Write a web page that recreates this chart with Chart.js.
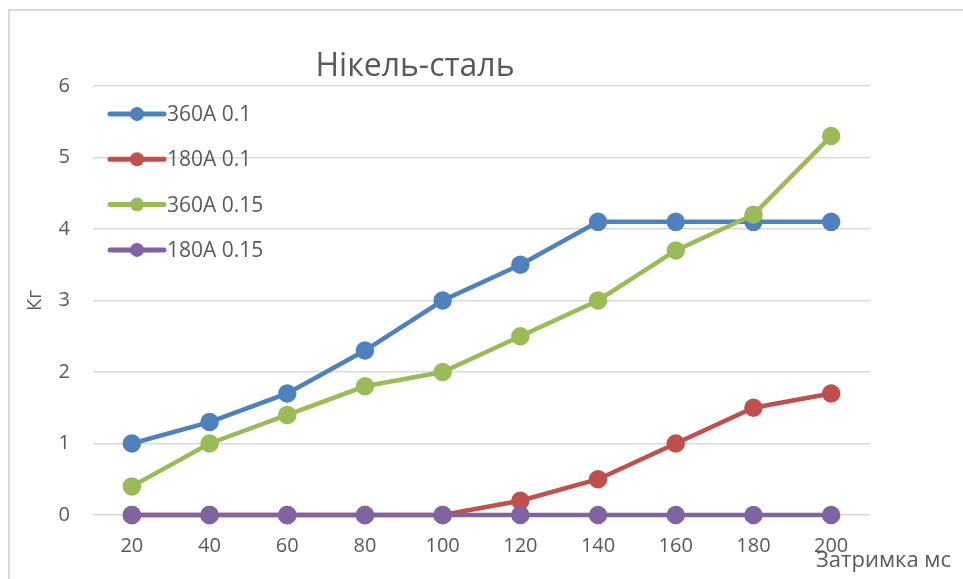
<!DOCTYPE html>
<html>
<head>
<meta charset="utf-8">
<title>Нікель-сталь</title>
<script src="https://cdn.jsdelivr.net/npm/chart.js@4/dist/chart.umd.min.js"></script>
<style>
  html, body { margin: 0; padding: 0; background: #ffffff; }
  #wrap { width: 963px; height: 579px; }
</style>
</head>
<body>
<div id="wrap"><canvas id="chart" width="963" height="579"></canvas></div>
<script>
// Delay values (ms) along the horizontal axis
const delays = ['20', '40', '60', '80', '100', '120', '140', '160', '180', '200'];

// Measured values, kg
const s360A_01  = [1.0, 1.3, 1.7, 2.3, 3.0, 3.5, 4.1, 4.1, 4.1, 4.1];
const s180A_01  = [0, 0, 0, 0, 0, 0.2, 0.5, 1.0, 1.5, 1.7];
const s360A_015 = [0.4, 1.0, 1.4, 1.8, 2.0, 2.5, 3.0, 3.7, 4.2, 5.3];
const s180A_015 = [0, 0, 0, 0, 0, 0, 0, 0, 0, 0];

const seriesNames = ['360A 0.1', '180A 0.1', '360A 0.15', '180A 0.15'];
const yTicks = [0, 1, 2, 3, 4, 5, 6];

const chartTitle = 'Нікель-сталь';
const xTitle = 'Затримка мс';
const yTitle = 'Кг';

const FONT = '"Open Sans", "Noto Sans", "DejaVu Sans", sans-serif';
const TEXT = '#595959';
const GRID = '#d9d9d9';

// later series are painted over earlier ones
function line(label, data, color, idx) {
  return {
    label, data,
    order: 10 - idx,
    borderColor: color,
    backgroundColor: color,
    pointBackgroundColor: color,
    pointBorderColor: color,
    borderWidth: 4.5,
    pointRadius: 7,
    pointHoverRadius: 7,
    tension: 0,
    fill: false,
    clip: false
  };
}

// Frame, title, axis titles and the in-plot legend
const decorations = {
  id: 'decorations',
  beforeDraw(chart) {
    const ctx = chart.ctx;
    ctx.save();
    ctx.fillStyle = '#ffffff';
    ctx.fillRect(0, 0, chart.width, chart.height);
    ctx.strokeStyle = GRID;
    ctx.lineWidth = 2;
    ctx.beginPath();
    ctx.moveTo(9, chart.height + 2);
    ctx.lineTo(9, 10);
    ctx.lineTo(chart.width + 2, 10);
    ctx.stroke();
    ctx.restore();
  },
  afterDatasetsDraw(chart) {
    const ctx = chart.ctx;
    const area = chart.chartArea;
    ctx.save();
    ctx.fillStyle = TEXT;

    // chart title
    ctx.font = '32px ' + FONT;
    ctx.textAlign = 'center';
    ctx.textBaseline = 'alphabetic';
    ctx.fillText(chartTitle, 415, area.top - 10);

    // y axis title
    ctx.save();
    ctx.font = '20px ' + FONT;
    ctx.translate(35, (area.top + area.bottom) / 2);
    ctx.rotate(-Math.PI / 2);
    ctx.textAlign = 'center';
    ctx.textBaseline = 'middle';
    ctx.fillText(yTitle, 0, 0);
    ctx.restore();

    // x axis title
    ctx.font = '22px ' + FONT;
    ctx.textAlign = 'right';
    ctx.textBaseline = 'alphabetic';
    ctx.fillText(xTitle, chart.width - 12, chart.height - 12);

    // legend
    const lx = area.left + 15;
    let ly = area.top + 28;
    chart.data.datasets.forEach(ds => {
      ctx.strokeStyle = ds.borderColor;
      ctx.lineWidth = 5;
      ctx.lineCap = 'round';
      ctx.beginPath();
      ctx.moveTo(lx + 2, ly);
      ctx.lineTo(lx + 56, ly);
      ctx.stroke();
      ctx.fillStyle = ds.borderColor;
      ctx.beginPath();
      ctx.arc(lx + 29, ly, 7, 0, Math.PI * 2);
      ctx.fill();
      ctx.fillStyle = TEXT;
      ctx.font = '21px ' + FONT;
      ctx.textAlign = 'left';
      ctx.textBaseline = 'middle';
      ctx.fillText(ds.label, lx + 59, ly + 1);
      ly += 45.3;
    });
    ctx.restore();
  }
};

new Chart(document.getElementById('chart'), {
  type: 'line',
  data: {
    labels: delays,
    datasets: [
      line(seriesNames[0], s360A_01, '#4f81bd', 0),
      line(seriesNames[1], s180A_01, '#c0504d', 1),
      line(seriesNames[2], s360A_015, '#9bbb59', 2),
      line(seriesNames[3], s180A_015, '#8064a2', 3)
    ]
  },
  options: {
    responsive: false,
    animation: false,
    devicePixelRatio: 1,
    layout: { padding: { top: 86, right: 93, bottom: 0, left: 0 } },
    plugins: {
      legend: { display: false },
      title: { display: false },
      tooltip: { enabled: false }
    },
    scales: {
      x: {
        offset: true,
        grid: { display: false, drawTicks: false },
        border: { display: false },
        ticks: { color: TEXT, font: { family: FONT, size: 20 }, padding: 19, maxRotation: 0 },
        afterFit(scale) { scale.height = 64; }
      },
      y: {
        min: 0,
        max: 6,
        afterBuildTicks(scale) { scale.ticks = yTicks.map(v => ({ value: v })); },
        grid: { color: GRID, lineWidth: 1.5, drawTicks: false },
        border: { display: false },
        ticks: { color: TEXT, font: { family: FONT, size: 20 }, padding: 23 },
        afterFit(scale) { scale.width = 93; }
      }
    }
  },
  plugins: [decorations]
});
</script>
</body>
</html>
